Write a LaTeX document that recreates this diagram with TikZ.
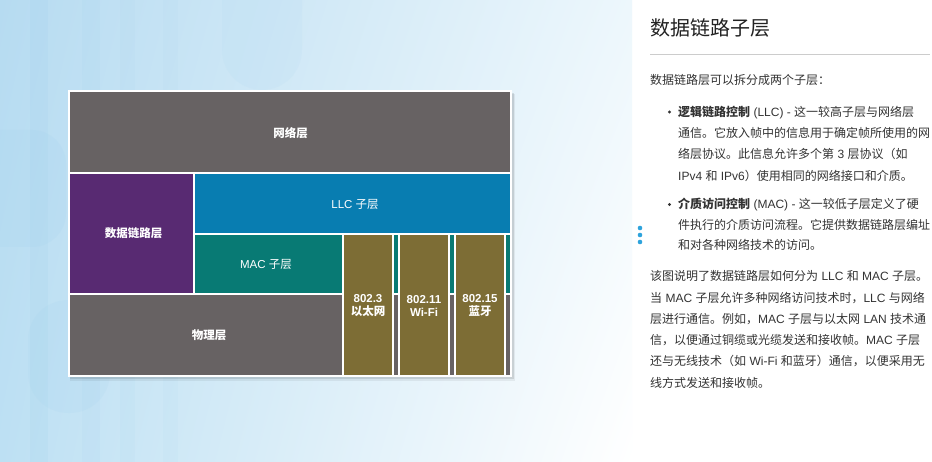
\documentclass[tikz,border=0pt]{standalone}
\usepackage{fontspec}
\usetikzlibrary{shadings}
\setmainfont{Noto Sans CJK SC}
\newfontfamily\lat{Liberation Sans}
\definecolor{cgray}{HTML}{676263}
\definecolor{cpurple}{HTML}{582A72}
\definecolor{cblue}{HTML}{087DB1}
\definecolor{cteal}{HTML}{087A74}
\definecolor{colive}{HTML}{7D6D35}
\definecolor{ctext}{HTML}{333333}
\definecolor{ctitle}{HTML}{222222}
\definecolor{crule}{HTML}{CCCCCC}
\definecolor{cdots}{HTML}{2EA3DC}
\definecolor{bgUL}{HTML}{B6DBF1}
\definecolor{bgUR}{HTML}{EDF7FC}
\definecolor{bgLL}{HTML}{BDE0F3}
\definecolor{bgstripe}{HTML}{9FD0EC}
\tikzset{
  lblb/.style={text=white, font=\fontsize{11.5}{13}\selectfont\bfseries, inner sep=0, align=center},
  lblr/.style={text=white, font=\fontsize{11.5}{13}\selectfont, inner sep=0, align=center},
  txt/.style={anchor=base west, inner sep=0, text=ctext, font=\fontsize{12}{14}\selectfont},
}
\begin{document}
\begin{tikzpicture}[x=1pt,y=-1pt]
\useasboundingbox (0,0) rectangle (932,462);
\fill[white] (0,0) rectangle (932,462);
% background
\shade[upper left=bgUL, upper right=bgUR, lower left=bgLL, lower right=white] (0,0) rectangle (632,462);
\fill[bgstripe, opacity=0.16] (30,0) rectangle (48,462);
\fill[bgstripe, opacity=0.10] (82,0) rectangle (100,462);
\fill[bgstripe, opacity=0.08] (120,0) rectangle (135,462);
\fill[bgstripe, opacity=0.07] (163,0) rectangle (178,462);
\fill[bgstripe, opacity=0.14, rounded corners=34pt] (-36,130) rectangle (66,247);
\fill[bgstripe, opacity=0.12, rounded corners=40pt] (28,300) rectangle (110,413);
\fill[bgstripe, opacity=0.09, rounded corners=40pt] (222,-60) rectangle (302,90);
% frame and shadow
\fill[black, opacity=0.06] (70,94) rectangle (515,381);
\fill[black, opacity=0.10] (70,93) rectangle (514,379);
\fill[white] (68,90) rectangle (512,377);
% blocks
\fill[cgray] (70,92) rectangle (510,172);
\fill[cpurple] (70,174) rectangle (193,293);
\fill[cblue] (195,174) rectangle (510,233);
\fill[cteal] (195,235) rectangle (342,293);
\fill[cgray] (70,295) rectangle (342,375);
\fill[colive] (344,235) rectangle (392,375);
\fill[cteal] (394,235) rectangle (398,293);
\fill[cgray] (394,295) rectangle (398,375);
\fill[colive] (400,235) rectangle (448,375);
\fill[cteal] (450,235) rectangle (454,293);
\fill[cgray] (450,295) rectangle (454,375);
\fill[colive] (456,235) rectangle (504,375);
\fill[cteal] (506,235) rectangle (510,293);
\fill[cgray] (506,295) rectangle (510,375);
% labels
\node[lblb] (net) at (290.5,133) {网络层};
\node[lblb] (dll) at (133.5,233) {数据链路层};
\node[lblr] (llc) at (355,204) {{\lat LLC }子层};
\node[lblr] (mac) at (266,264.5) {{\lat MAC }子层};
\node[lblb] (phy) at (209,335) {物理层};
\node[lblb] (e3) at (368,305.5) {{\lat 802.3}\\以太网};
\node[lblb] (e11) at (424,305.5) {{\lat 802.11}\\{\lat Wi-Fi}};
\node[lblb] (e15) at (480,305.5) {{\lat 802.15}\\蓝牙};
% right panel
\node[anchor=base west, inner sep=0, text=ctitle, font=\fontsize{20}{24}\selectfont] (title) at (650,36) {数据链路子层};
\draw[crule, line width=1pt] (650,54.5) -- (930,54.5);
\node[txt] (p1) at (650,85) {数据链路层可以拆分成两个子层：};
\fill[ctext] (669.5,112) circle (1.6);
\node[txt] (b1a) at (678,116.5) {\textbf{逻辑链路控制}{\lat\ (LLC) - }这一较高子层与网络层};
\node[txt] (b1b) at (678,137.7) {通信。它放入帧中的信息用于确定帧所使用的网};
\node[txt] (b1c) at (678,158.9) {络层协议。此信息允许多个第{\lat\ 3 }层协议（如};
\node[txt] (b1d) at (678,180.1) {{\lat IPv4 }和{\lat\ IPv6}）使用相同的网络接口和介质。};
\fill[ctext] (669.5,204.5) circle (1.6);
\node[txt] (b2a) at (678,209) {\textbf{介质访问控制}{\lat\ (MAC) - }这一较低子层定义了硬};
\node[txt] (b2b) at (678,229.5) {件执行的介质访问流程。它提供数据链路层编址};
\node[txt] (b2c) at (678,250) {和对各种网络技术的访问。};
\node[txt] (p3a) at (650,281) {该图说明了数据链路层如何分为{\lat\ LLC }和{\lat\ MAC }子层。};
\node[txt] (p3b) at (650,302.2) {当{\lat\ MAC }子层允许多种网络访问技术时，{\lat LLC }与网络};
\node[txt] (p3c) at (650,323.4) {层进行通信。例如，{\lat MAC }子层与以太网{\lat\ LAN }技术通};
\node[txt] (p3d) at (650,344.6) {信，以便通过铜缆或光缆发送和接收帧。{\lat MAC }子层};
\node[txt] (p3e) at (650,365.8) {还与无线技术（如{\lat\ Wi-Fi }和蓝牙）通信，以便采用无};
\node[txt] (p3f) at (650,387) {线方式发送和接收帧。};
% side dots
\fill[cdots] (640,228) circle (2.3);
\fill[cdots] (640,235) circle (2.3);
\fill[cdots] (640,242) circle (2.3);
\end{tikzpicture}
\end{document}
